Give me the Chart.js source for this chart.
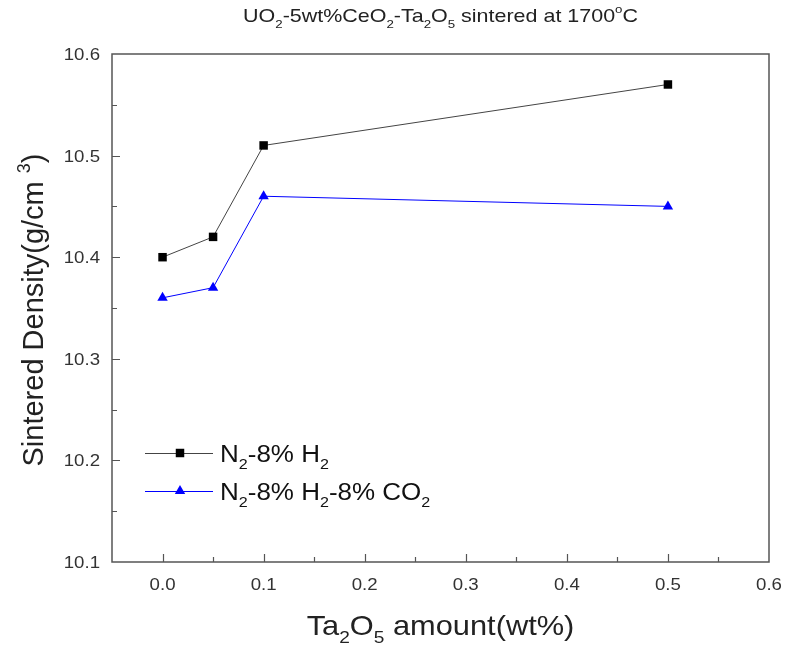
<!DOCTYPE html>
<html>
<head>
<meta charset="utf-8">
<script src="https://cdn.jsdelivr.net/npm/chart.js@4/dist/chart.umd.min.js"></script>
<style>
  html, body { margin: 0; padding: 0; background: #fff; }
  #wrap { width: 786px; height: 653px; }
</style>
</head>
<body>
<div id="wrap"><canvas id="densityChart" width="786" height="653"></canvas></div>
<script>
// Ta2O5 amount (wt%) and sintered density values
const taAmount = [0.0, 0.05, 0.1, 0.5];
const densityN2H2 = [10.40, 10.42, 10.51, 10.57];
const densityN2H2CO2 = [10.36, 10.37, 10.46, 10.45];

const seriesLabels = ['N_2-8% H_2', 'N_2-8% H_2-8% CO_2'];
const xTicks = [0.0, 0.1, 0.2, 0.3, 0.4, 0.5, 0.6];
const yTicks = [10.1, 10.2, 10.3, 10.4, 10.5, 10.6];

const titleText = 'UO_2-5wt%CeO_2-Ta_2O_5 sintered at 1700^oC';
const xTitleText = 'Ta_2O_5 amount(wt%)';
const yTitleText = 'Sintered Density(g/cm ^3)';

const FONT = '"Liberation Sans", Arial, sans-serif';
const AXIS_COLOR = '#555';
const STRETCH = 1.13; // the source figure is a bit wider than tall

// draw text where "_x" is subscript and "^x" is superscript (single char)
function richText(ctx, str, x, y, size, align, sx) {
    sx = sx || 1;
    const parts = [];
    for (let i = 0; i < str.length; i++) {
        const c = str[i];
        if ((c === '_' || c === '^') && i + 1 < str.length) {
            parts.push({ t: str[i + 1], mode: c });
            i++;
        } else {
            const last = parts[parts.length - 1];
            if (last && last.mode === '') last.t += c;
            else parts.push({ t: c, mode: '' });
        }
    }
    const small = size * 0.62;
    let total = 0;
    parts.forEach(p => {
        ctx.font = (p.mode ? small : size) + 'px ' + FONT;
        p.w = ctx.measureText(p.t).width;
        total += p.w;
    });
    ctx.save();
    ctx.translate(x, y);
    ctx.scale(sx, 1);
    let cx = 0;
    if (align === 'center') cx = -total / 2;
    if (align === 'right') cx = -total;
    ctx.textAlign = 'left';
    ctx.textBaseline = 'alphabetic';
    parts.forEach(p => {
        let dy = 0;
        if (p.mode === '_') dy = size * 0.3;
        if (p.mode === '^') dy = -size * 0.45;
        ctx.font = (p.mode ? small : size) + 'px ' + FONT;
        ctx.fillText(p.t, cx, dy);
        cx += p.w;
    });
    ctx.restore();
}

const framePlugin = {
    id: 'frame',
    afterDraw(chart) {
        const ctx = chart.ctx;
        const a = chart.chartArea;
        const xs = chart.scales.x;
        const ys = chart.scales.y;
        ctx.save();
        ctx.strokeStyle = AXIS_COLOR;
        ctx.lineWidth = 1.5;
        ctx.strokeRect(a.left, a.top, a.right - a.left, a.bottom - a.top);

        // inward ticks, major + minor
        ctx.lineWidth = 1.2;
        ctx.beginPath();
        for (let v = -0.05; v <= 0.6001; v += 0.05) {
            const px = Math.round(xs.getPixelForValue(v)) + 0.5;
            const major = Math.abs(Math.round(v * 10) - v * 10) < 1e-6;
            const len = major ? 8 : 5;
            if (px <= a.left + 1 || px >= a.right - 1) continue;
            ctx.moveTo(px, a.bottom);
            ctx.lineTo(px, a.bottom - len);
        }
        for (let v = 10.1; v <= 10.6001; v += 0.05) {
            const py = Math.round(ys.getPixelForValue(v)) + 0.5;
            const major = Math.abs(Math.round(v * 10) - v * 10) < 1e-6;
            const len = major ? 8 : 5;
            if (py <= a.top + 1 || py >= a.bottom - 1) continue;
            ctx.moveTo(a.left, py);
            ctx.lineTo(a.left + len, py);
        }
        ctx.stroke();

        // tick labels
        ctx.fillStyle = '#333';
        xTicks.forEach(v => {
            richText(ctx, v.toFixed(1), xs.getPixelForValue(v), a.bottom + 28, 16.5, 'center', STRETCH);
        });
        yTicks.forEach(v => {
            richText(ctx, v.toFixed(1), a.left - 12, ys.getPixelForValue(v) + 6, 16.5, 'right', STRETCH);
        });

        // titles
        ctx.fillStyle = '#222';
        richText(ctx, titleText, (a.left + a.right) / 2, 22, 19, 'center', STRETCH);
        richText(ctx, xTitleText, (a.left + a.right) / 2, 635, 28, 'center', 1.1);
        ctx.save();
        ctx.translate(43, (a.top + a.bottom) / 2 + 2);
        ctx.rotate(-Math.PI / 2);
        richText(ctx, yTitleText, 0, 0, 29, 'center');
        ctx.restore();

        // legend
        const rows = [
            { y: 453, ds: chart.data.datasets[0] },
            { y: 491, ds: chart.data.datasets[1] }
        ];
        rows.forEach((r, i) => {
            ctx.strokeStyle = r.ds.borderColor;
            ctx.lineWidth = 1;
            ctx.beginPath();
            ctx.moveTo(145, r.y + 0.5);
            ctx.lineTo(213, r.y + 0.5);
            ctx.stroke();
            ctx.fillStyle = r.ds.pointBackgroundColor;
            Chart.helpers.drawPoint(ctx, {
                pointStyle: r.ds.pointStyle,
                radius: r.ds.pointRadius,
                rotation: 0,
                borderWidth: 0
            }, 180, r.y);
            ctx.fillStyle = '#111';
            richText(ctx, seriesLabels[i], 220, r.y + 9, 23, 'left', STRETCH);
        });
        ctx.restore();
    }
};

new Chart(document.getElementById('densityChart'), {
    type: 'line',
    data: {
        datasets: [
            {
                label: seriesLabels[0],
                data: taAmount.map((x, i) => ({ x: x, y: densityN2H2[i] })),
                borderColor: '#444',
                borderWidth: 1,
                pointStyle: 'rect',
                pointRadius: 6,
                pointBackgroundColor: '#000',
                pointBorderWidth: 0,
                tension: 0
            },
            {
                label: seriesLabels[1],
                data: taAmount.map((x, i) => ({ x: x, y: densityN2H2CO2[i] })),
                borderColor: '#0000ff',
                borderWidth: 1,
                pointStyle: 'triangle',
                pointRadius: 6,
                pointBackgroundColor: '#0000ff',
                pointBorderWidth: 0,
                tension: 0
            }
        ]
    },
    options: {
        responsive: false,
        animation: false,
        devicePixelRatio: 1,
        layout: { padding: { top: 54, right: 17, left: 0, bottom: 0 } },
        plugins: {
            legend: { display: false },
            tooltip: { enabled: false }
        },
        scales: {
            x: {
                type: 'linear',
                min: -0.05,
                max: 0.6,
                afterFit: s => { s.height = 91; },
                afterBuildTicks: s => { s.ticks = xTicks.map(v => ({ value: v })); },
                grid: { display: false, drawTicks: false },
                border: { display: false },
                ticks: { display: false }
            },
            y: {
                type: 'linear',
                min: 10.1,
                max: 10.6,
                afterFit: s => { s.width = 112; },
                afterBuildTicks: s => { s.ticks = yTicks.map(v => ({ value: v })); },
                grid: { display: false, drawTicks: false },
                border: { display: false },
                ticks: { display: false }
            }
        }
    },
    plugins: [framePlugin]
});
</script>
</body>
</html>
